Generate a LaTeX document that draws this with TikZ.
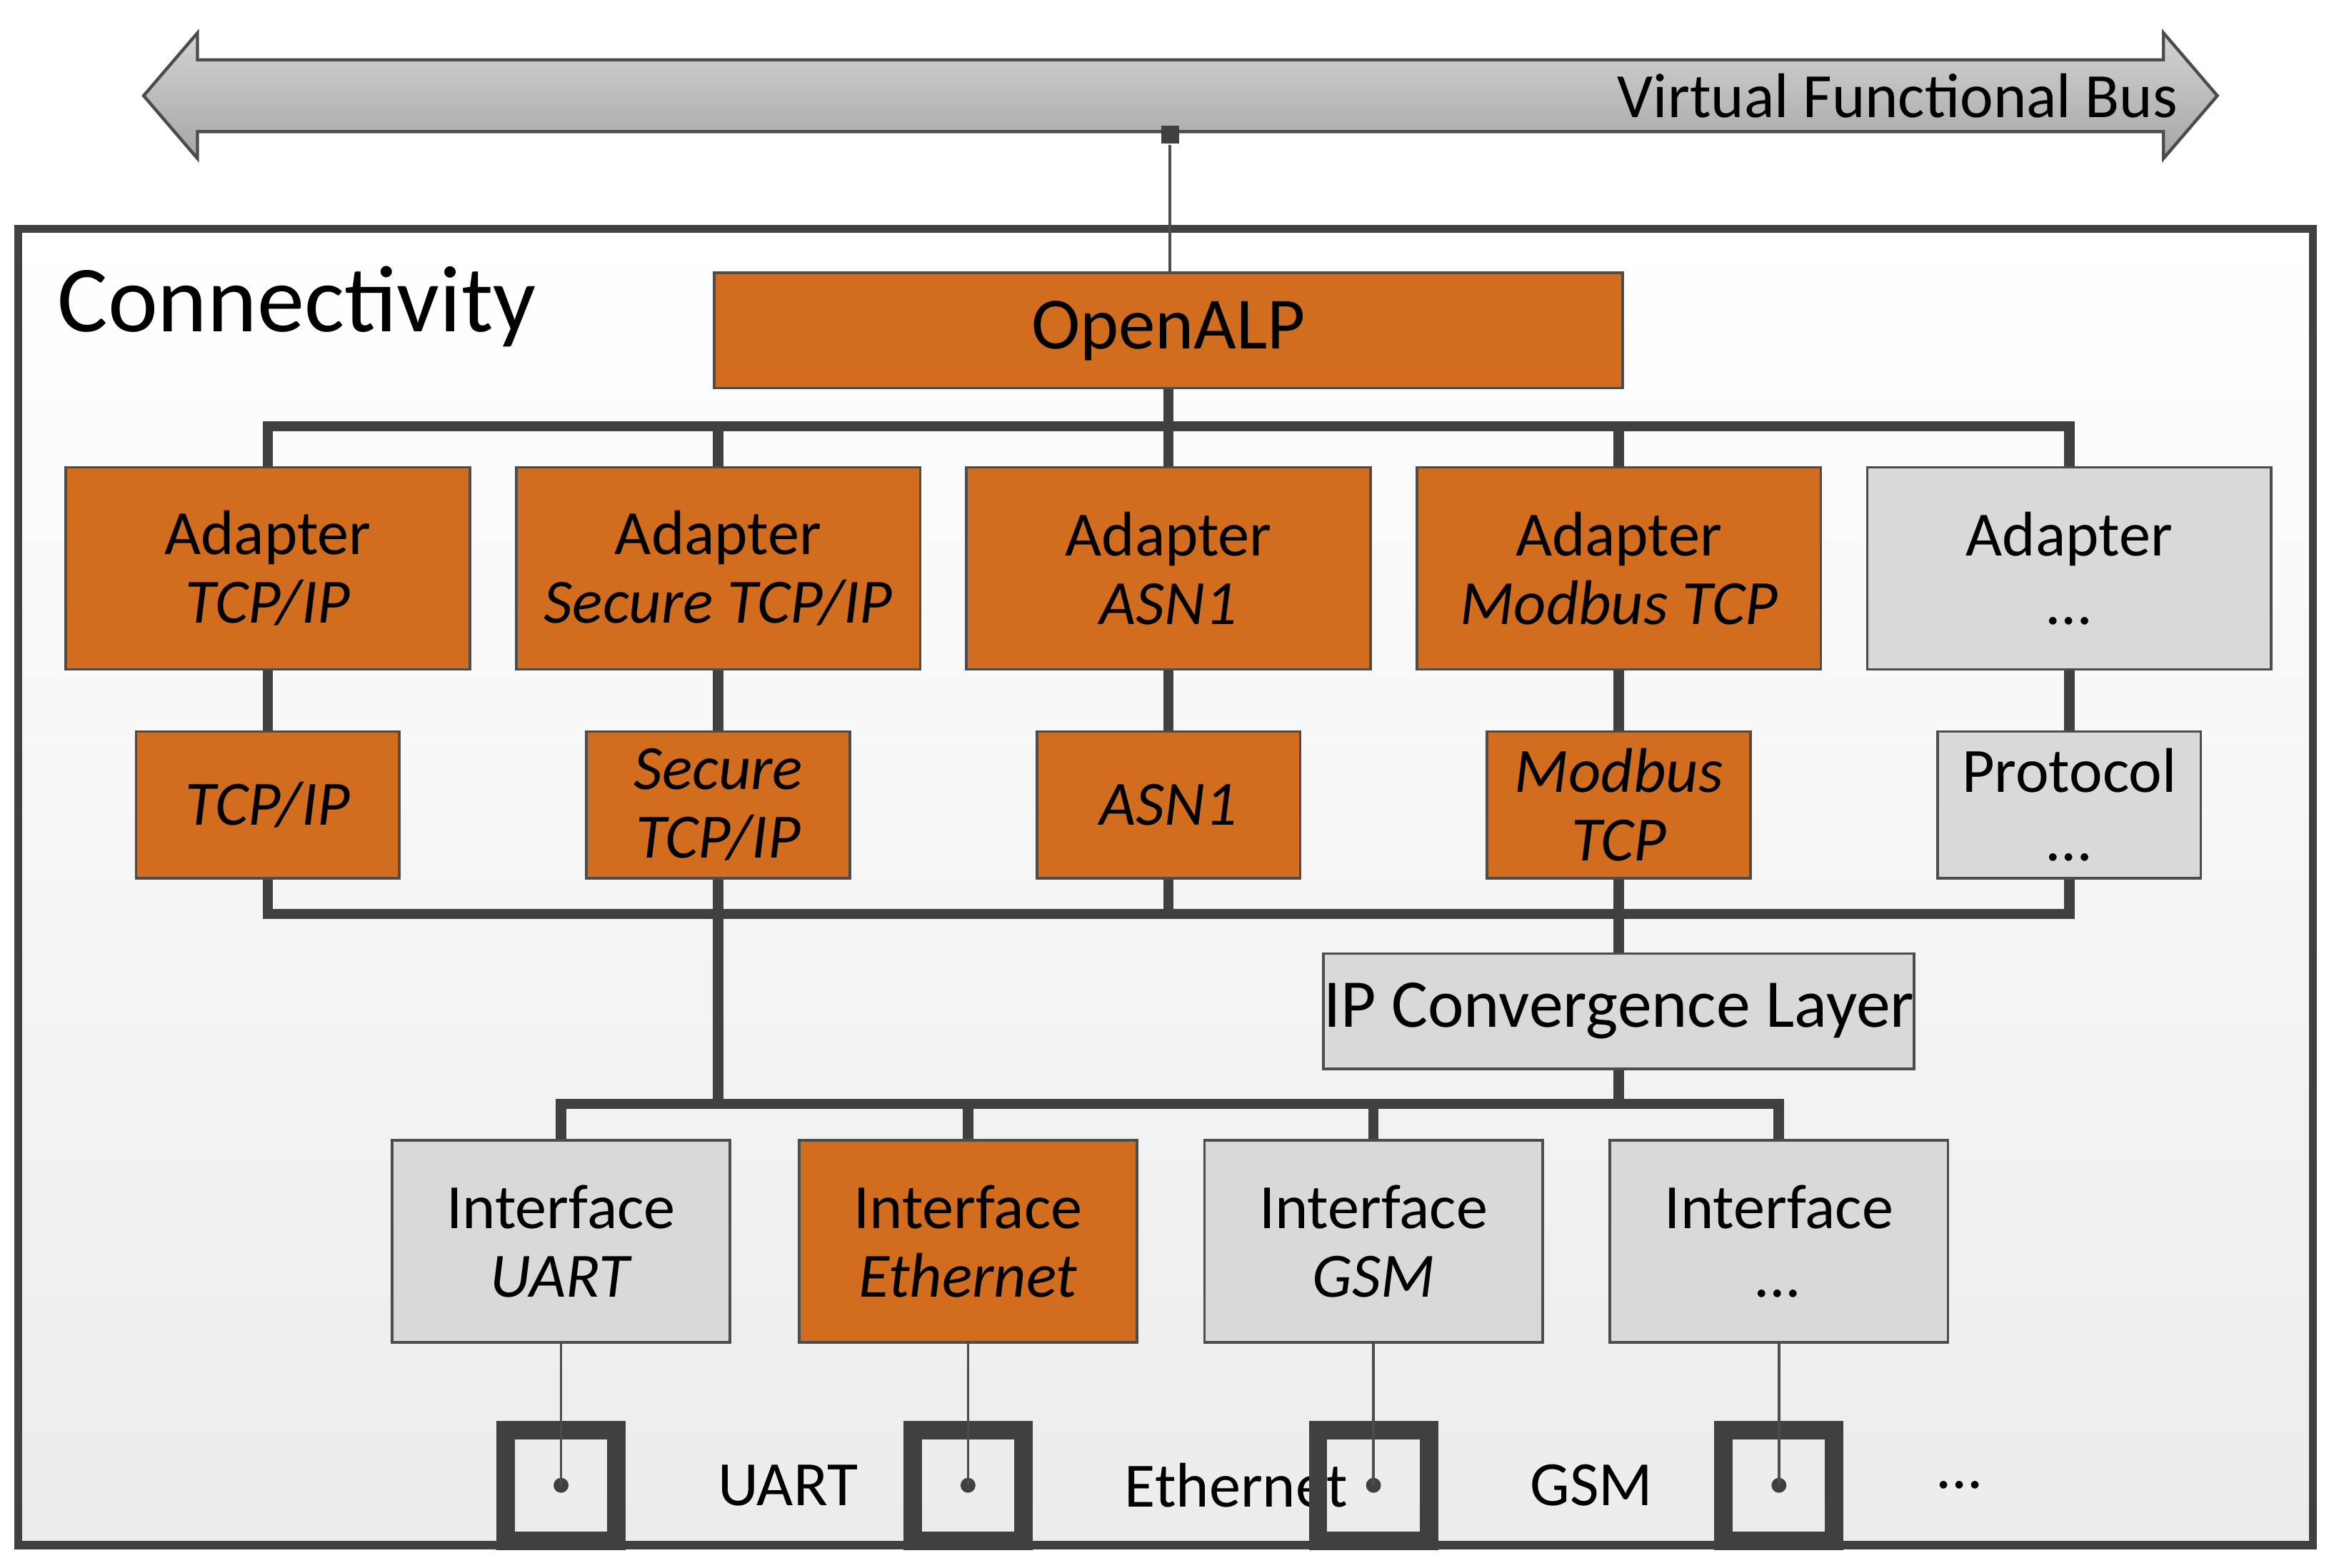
\documentclass[tikz,border=0pt]{standalone}
\usepackage{fontspec}
\setmainfont{Carlito}
\usetikzlibrary{shapes.arrows}
\definecolor{alporange}{RGB}{210,108,30}
\definecolor{boxgray}{RGB}{217,217,217}
\definecolor{linegray}{RGB}{64,64,64}
\tikzset{
  box/.style={draw=black!70, line width=0.5pt, align=center, font=\fontsize{12}{13}\selectfont, inner sep=0pt},
  orange/.style={box, fill=alporange},
  grey/.style={box, fill=boxgray},
  adapter/.style={minimum width=27mm, minimum height=13.5mm},
  proto/.style={minimum width=17.6mm, minimum height=9.8mm},
  iface/.style={minimum width=22.6mm, minimum height=13.5mm},
  link/.style={linegray, line width=2pt},
  thin/.style={black!70, line width=0.5pt},
  port/.style={draw=linegray, line width=3.5pt, minimum size=7.4mm, inner sep=0pt},
}
\begin{document}
\begin{tikzpicture}[x=0.1mm, y=-0.1mm]
  \useasboundingbox (0,0) rectangle (1560,1048);
  % Bus
  \fill[top color=gray!35, bottom color=gray!70, draw=gray!60!black, line width=0.6pt]
    (96,64) -- (132,22) -- (132,40) -- (1446,40) -- (1446,22) -- (1482,64)
    -- (1446,106) -- (1446,88) -- (132,88) -- (132,106) -- cycle;
  \node[anchor=east, font=\fontsize{12}{13}\selectfont] (vfb) at (1468,64) {Virtual Functional Bus};
  % Rahmen
  \draw[top color=white, bottom color=gray!15, draw=linegray, line width=1.5pt] (12,153) rectangle (1546,1033);
  \node[anchor=west, font=\fontsize{18}{20}\selectfont] (conn) at (26,205) {Connectivity};
  % OpenALP
  \node[orange, minimum width=60.7mm, minimum height=7.7mm, font=\fontsize{14}{15}\selectfont] (alp) at (781,221) {OpenALP};
  \node[fill=linegray, minimum size=1.2mm, inner sep=0pt] (sq) at (782,90) {};
  \draw[thin] (sq) -- (alp.north -| sq);
  % Adapter und Protokolle
  \node[orange, adapter] (a1) at (179,380) {Adapter\\\textit{TCP/IP}};
  \node[orange, adapter] (a2) at (480,380) {Adapter\\\textit{Secure TCP/IP}};
  \node[orange, adapter] (a3) at (781,380) {Adapter\\\textit{ASN1}};
  \node[orange, adapter] (a4) at (1082,380) {Adapter\\\textit{Modbus TCP}};
  \node[grey, adapter] (a5) at (1383,380) {Adapter\\\dots};
  \node[orange, proto] (p1) at (179,538) {\textit{TCP/IP}};
  \node[orange, proto] (p2) at (480,538) {\textit{Secure}\\\textit{TCP/IP}};
  \node[orange, proto] (p3) at (781,538) {\textit{ASN1}};
  \node[orange, proto] (p4) at (1082,538) {\textit{Modbus}\\\textit{TCP}};
  \node[grey, proto] (p5) at (1383,538) {Protocol\\\dots};
  \node[grey, minimum width=37.8mm, minimum height=7.7mm, font=\fontsize{13}{14}\selectfont] (ipcl) at (1082,676) {IP Convergence Layer};
  % Verbindungen
  \coordinate (top) at (781,285);
  \coordinate (mid) at (781,611);
  \coordinate (low) at (781,738);
  \draw[link] (alp) -- (top);
  \foreach \i in {1,2,3,4,5} {
    \draw[link] (a\i.north) |- (top);
    \draw[link] (a\i) -- (p\i);
    \draw[link] (p\i.south) |- (mid);
  }
  \draw[link] (p2.south) -- (p2.south |- low);
  \draw[link] (p4.south) -- (ipcl.north);
  \draw[link] (ipcl.south) -- (ipcl.south |- low);
  % Interfaces
  \node[grey, iface] (i1) at (375,830) {Interface\\\textit{UART}};
  \node[orange, iface] (i2) at (647,830) {Interface\\\textit{Ethernet}};
  \node[grey, iface] (i3) at (918,830) {Interface\\\textit{GSM}};
  \node[grey, iface] (i4) at (1189,830) {Interface\\\textit{...}};
  \foreach \i/\lab in {1/{UART}, 2/{Ethernet}, 3/{GSM}, 4/{{...}}} {
    \draw[link] (i\i.north) |- (low);
    \node[port] (s\i) at (i\i |- 0,993) {};
    \fill[linegray] (s\i.center) circle (5);
    \draw[thin] (i\i.south) -- (s\i.center);
    \node[anchor=west, font=\fontsize{12}{13}\selectfont] (l\i) at ([xshift=14]s\i.east) {\lab};
  }
\end{tikzpicture}
\end{document}
